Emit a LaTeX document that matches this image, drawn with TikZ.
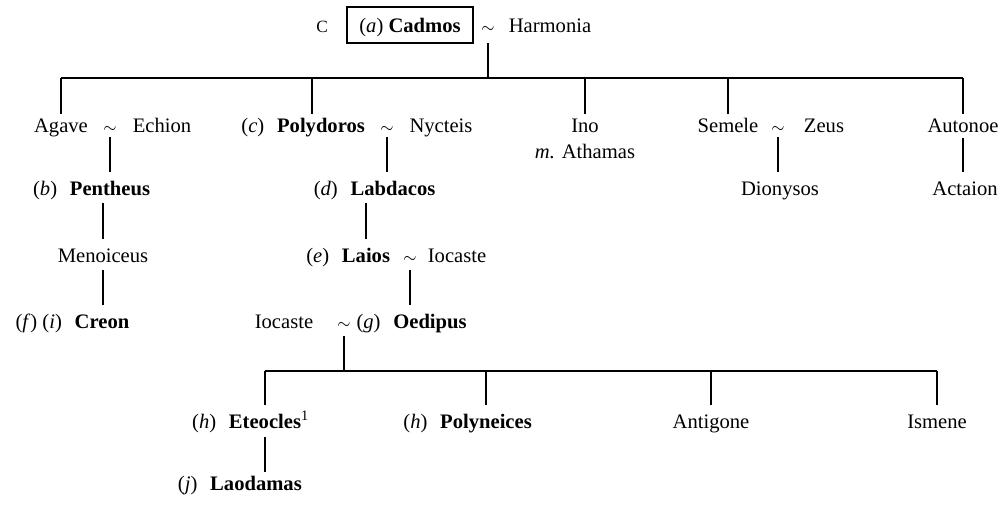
\documentclass[tikz,border=0pt]{standalone}
\usepackage{fontspec}
\setmainfont{Liberation Serif}
\begin{document}
\begin{tikzpicture}[x=0.5pt,y=-0.5pt,
  every node/.style={inner sep=0pt, text height=7pt, text depth=2pt,
    font=\fontsize{10.3}{12}\selectfont},
  label distance=6pt,
  who/.style={anchor=base},
  hero/.style={anchor=base, font=\fontsize{10.3}{12}\selectfont\bfseries},
  wed/.style={anchor=base, font=\fontsize{8.5}{10}\selectfont},
  tagged/.style={label={left:#1}},
  line/.style={line width=0.8pt},
  desc/.style={line, shorten <=2pt, shorten >=4.5pt},
  drop/.style={line, shorten >=2.5pt}]
\useasboundingbox (0,0) rectangle (1000,508);

% founding couple
\node[anchor=base, font=\fontsize{8.6}{10}\selectfont] (cmark) at (322,33) {C};
\node[anchor=base, draw, line width=0.75pt, text height=10pt, inner ysep=3pt,
      minimum width=63pt] (cadmos) at (410,33) {(\textit{a}) \textbf{Cadmos}};
\node[wed] (tc) at (488,33) {$\sim$};
\node[who] (harmonia) at (550,33) {Harmonia};
\coordinate (topbar) at (488,78);

% children of Cadmos
\node[who] (agave) at (61,133) {Agave};
\node[wed] (t1) at (110,133) {$\sim$};
\node[who] (echion) at (162,133) {Echion};
\node[hero, tagged={(\textit{c})}] (polydoros) at (321,133) {Polydoros};
\node[wed] (t2) at (387,133) {$\sim$};
\node[who] (nycteis) at (441,133) {Nycteis};
\node[who] (ino) at (585,133) {Ino};
\node[who] (athamas) at (585,158) {\textit{m.} Athamas};
\node[who] (semele) at (728,133) {Semele};
\node[wed] (t3) at (778,133) {$\sim$};
\node[who] (zeus) at (824,133) {Zeus};
\node[who] (autonoe) at (963,133) {Autonoe};

% grandchildren
\node[hero, tagged={(\textit{b})}] (pentheus) at (110,195) {Pentheus};
\node[hero, tagged={(\textit{d})}] (labdacos) at (393,195) {Labdacos};
\node[who] (dionysos) at (780,195) {Dionysos};
\node[who] (actaion) at (965,195) {Actaion};

\node[who] (menoiceus) at (103,262) {Menoiceus};
\node[hero, tagged={(\textit{e})}] (laios) at (366,262) {Laios};
\node[wed] (t4) at (410,262) {$\sim$};
\node[who] (iocaste) at (457,262) {Iocaste};

\node[hero, tagged={(\textit{f}\/) (\textit{i})}] (creon) at (102,328) {Creon};
\node[who] (iocasteb) at (284,328) {Iocaste};
\node[wed] (t5) at (344,328) {$\sim$};
\node[hero, tagged={(\textit{g})}] (oedipus) at (430,328) {Oedipus};
\coordinate (lowbar) at (344,371);

% children of Oedipus
\node[hero, tagged={(\textit{h})}] (eteocles) at (265,428) {Eteocles\rlap{\textsuperscript{\mdseries 1}}};
\node[hero, tagged={(\textit{h})}] (polyneices) at (486,428) {Polyneices};
\node[who] (antigone) at (711,428) {Antigone};
\node[who] (ismene) at (937,428) {Ismene};
\node[hero, tagged={(\textit{j})}] (laodamas) at (256,490) {Laodamas};

% descent lines from Cadmos
\draw[line, shorten <=3pt] (tc.south) -- (tc.south |- topbar);
\draw[line] (topbar -| agave.north) -- (topbar -| autonoe.north);
\foreach \n in {agave, ino, semele, autonoe}
  \draw[drop] (topbar -| \n.north) -- (\n.north);
\draw[drop] ([xshift=-4.5pt]topbar -| polydoros.north) -- ([xshift=-4.5pt]polydoros.north);

\draw[desc, shorten <=0pt] (t1.south) -- (t1.south |- pentheus.north);
\draw[desc, shorten <=0pt] (t2.south) -- (t2.south |- labdacos.north);
\draw[desc, shorten <=0pt] (t3.south) -- (t3.south |- dionysos.north);
\draw[desc, shorten <=0.5pt] (autonoe.south) -- (autonoe.south |- actaion.north);

\draw[desc] (menoiceus.north |- pentheus.south) -- (menoiceus.north);
\draw[desc] (menoiceus.south) -- (menoiceus.south |- creon.north);
\draw[desc] (laios.north |- labdacos.south) -- (laios.north);
\draw[desc] (t4.south) -- (t4.south |- oedipus.north);

% children of Oedipus and Iocaste
\draw[line, shorten <=2pt] (t5.south) -- (lowbar);
\draw[line] (lowbar -| eteocles.north) -- (lowbar -| ismene.north);
\foreach \n in {eteocles, polyneices, antigone, ismene}
  \draw[line, shorten >=4.5pt] (lowbar -| \n.north) -- (\n.north);
\draw[line, shorten <=2.5pt, shorten >=2pt] (eteocles.south) -- (eteocles.south |- laodamas.north);
\end{tikzpicture}
\end{document}
